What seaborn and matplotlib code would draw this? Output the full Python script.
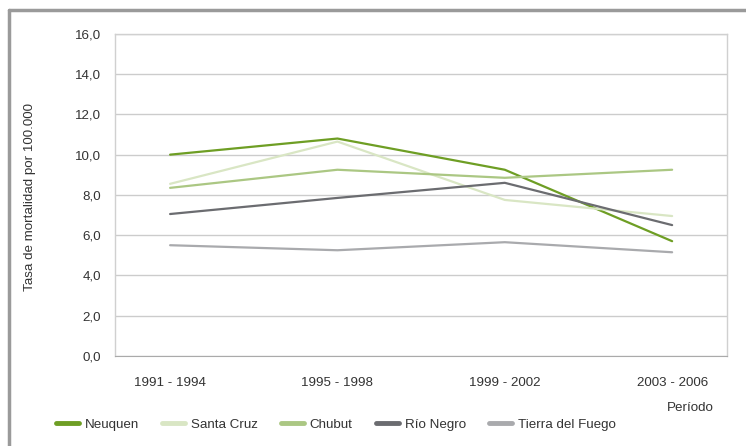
import pandas as pd
import matplotlib.pyplot as plt
import matplotlib.lines as mlines
import seaborn as sns

periods = ['1991 - 1994', '1995 - 1998', '1999 - 2002', '2003 - 2006']
neuquen = [10.0, 10.8, 9.25, 5.7]
santa_cruz = [8.55, 10.65, 7.75, 6.95]
chubut = [8.35, 9.25, 8.85, 9.25]
rio_negro = [7.05, 7.85, 8.6, 6.5]
tierra_del_fuego = [5.5, 5.25, 5.65, 5.15]

series_names = ['Neuquen', 'Santa Cruz', 'Chubut', 'Río Negro', 'Tierra del Fuego']
series_colors = ['#6e9e24', '#d9e6c4', '#abc783', '#6b6c70', '#a9aaad']

rows = []
for name, vals in zip(series_names, [neuquen, santa_cruz, chubut, rio_negro, tierra_del_fuego]):
    for i, v in enumerate(vals):
        rows.append({'serie': name, 'pos': i, 'tasa': v})
df = pd.DataFrame(rows)

sns.set_style('white')
plt.rcParams['font.family'] = ['Liberation Sans', 'DejaVu Sans']
text_color = '#333333'
fs = 9.6

fig = plt.figure(figsize=(7.46, 4.46), dpi=100)
ax = fig.add_axes([0.154, 0.202, 0.821, 0.722])

sns.lineplot(data=df, x='pos', y='tasa', hue='serie', hue_order=series_names,
             palette=series_colors, linewidth=1.6, legend=False, ax=ax)

ax.set_xlim(-0.33, 3.33)
ax.set_ylim(0, 16)
ax.set_yticks(range(0, 17, 2))
ax.set_yticklabels([f'{v:.1f}'.replace('.', ',') for v in range(0, 17, 2)],
                   fontsize=fs, color=text_color)
ax.yaxis.grid(True, color='#cccccc', linewidth=1)
ax.set_axisbelow(True)

ax.set_xticks(range(4))
ax.set_xticklabels(periods, fontsize=fs, color=text_color)
ax.set_xticks([0.5, 1.5, 2.5], minor=True)
ax.tick_params(axis='x', which='major', length=0, pad=15)
ax.tick_params(axis='x', which='minor', length=7, width=1, color='#888888', direction='inout')
ax.tick_params(axis='y', length=0, pad=10)

for side in ['top', 'right', 'left']:
    ax.spines[side].set_color('#d0d0d0')
    ax.spines[side].set_linewidth(1)
ax.spines['bottom'].set_color('#aaaaaa')

ax.set_xlabel('')
ax.set_ylabel('Tasa de mortalidad por 100.000', fontsize=fs, color=text_color)
ax.yaxis.set_label_coords(-0.128, 0.494)

fig.text(0.925, 0.085, 'Período', fontsize=fs, color=text_color, ha='center', va='center')

handles = [mlines.Line2D([], [], color=c, linewidth=3.5) for c in series_colors]
fig.legend(handles, series_names, loc='center left', bbox_to_anchor=(0.066, 0.048),
           ncol=5, frameon=False, fontsize=fs, handlelength=1.7, columnspacing=1.75,
           handletextpad=0.45, labelcolor=text_color, borderpad=0)

# outer frame (left and top edges only)
fig.add_artist(mlines.Line2D([0.012, 0.012], [0, 0.977], color='#9a9a9a', linewidth=2.5,
                             transform=fig.transFigure))
fig.add_artist(mlines.Line2D([0.012, 1.0], [0.977, 0.977], color='#9a9a9a', linewidth=2.5,
                             transform=fig.transFigure))

fig.savefig('out.png', dpi=100)
